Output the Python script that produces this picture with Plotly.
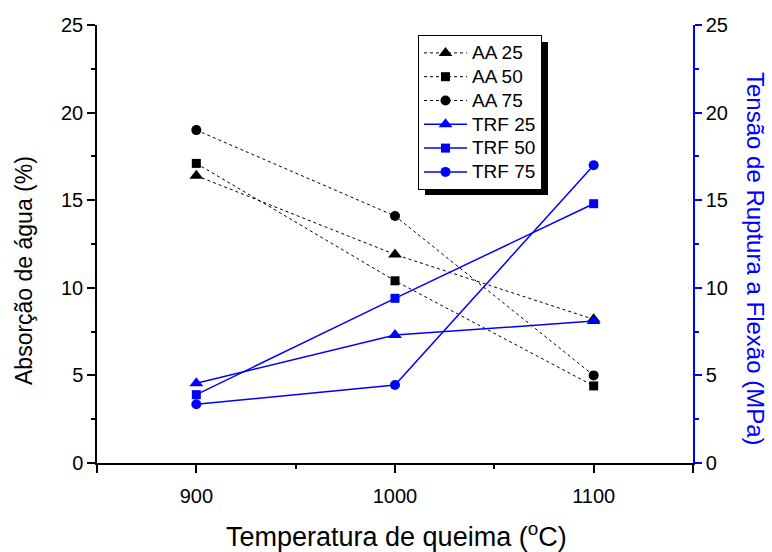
import plotly.graph_objects as go

temps = [900, 1000, 1100]
aa25 = [16.4, 11.9, 8.2]
aa50 = [17.1, 10.4, 4.4]
aa75 = [19.0, 14.1, 5.0]
trf25 = [4.55, 7.3, 8.1]
trf50 = [3.9, 9.4, 14.8]
trf75 = [3.35, 4.45, 17.0]

aa_names = ["AA 25", "AA 50", "AA 75"]
trf_names = ["TRF 25", "TRF 50", "TRF 75"]
symbols = ["triangle-up", "square", "circle"]
sizes = [12, 9, 10]

FONT = "Liberation Sans, Arial, sans-serif"
BLUE = "#0000ff"


def legend_label(name):
    # larger glyphs while keeping the compact legend row spacing
    return '<span style="font-size:19px">' + name + '</span>'


fig = go.Figure()
for name, vals, sym, sz in zip(aa_names, [aa25, aa50, aa75], symbols, sizes):
    fig.add_trace(go.Scatter(
        x=temps, y=vals, name=legend_label(name), mode="lines+markers",
        line=dict(color="black", width=1, dash="3px,3px"),
        marker=dict(symbol=sym, size=sz, color="black"),
        yaxis="y"))
for name, vals, sym, sz in zip(trf_names, [trf25, trf50, trf75], symbols, sizes):
    fig.add_trace(go.Scatter(
        x=temps, y=vals, name=legend_label(name), mode="lines+markers",
        line=dict(color=BLUE, width=1.5),
        marker=dict(symbol=sym, size=sz, color=BLUE),
        yaxis="y2"))

# plot area pixels
L, R, T, B = 97, 693, 25, 463
W, H = 772, 552
pw, ph = R - L, B - T

def px_x(x):
    return (x - L) / pw

def px_y(y):
    return (B - y) / ph

leg_l, leg_t, leg_r, leg_b = 418, 35, 541, 188
sh = 7

fig.update_layout(
    width=W, height=H,
    margin=dict(l=L, r=W - R, t=T, b=H - B, autoexpand=False),
    paper_bgcolor="white", plot_bgcolor="white",
    font=dict(family=FONT, size=20, color="black"),
    showlegend=True,
    legend=dict(
        x=px_x(leg_l), y=px_y(leg_t), xanchor="left", yanchor="top",
        bgcolor="white", bordercolor="black", borderwidth=1,
        font=dict(family=FONT, size=16, color="black"),
        tracegroupgap=0, itemwidth=43,
    ),
    xaxis=dict(
        range=[850, 1150], showgrid=False, zeroline=False,
        showline=True, linecolor="black", linewidth=1.5,
        ticks="outside", ticklen=8, tickwidth=1.5, tickcolor="black",
        tickvals=[850, 900, 1000, 1100, 1150],
        ticktext=["", "900", "1000", "1100", ""],
        minor=dict(tickvals=[950, 1050], ticks="outside", ticklen=4, tickwidth=1.5, tickcolor="black"),
        tickfont=dict(size=20), ticklabelstandoff=6,
    ),
    xaxis2=dict(
        range=[850, 1150], overlaying="x", side="top", anchor="y",
        showgrid=False, zeroline=False, showline=True, linecolor="black", linewidth=1.5,
        ticks="inside", ticklen=8, tickwidth=1.5, tickcolor="black",
        tickvals=[850, 900, 1000, 1100, 1150], showticklabels=False,
        minor=dict(tickvals=[950, 1050], ticks="inside", ticklen=4, tickwidth=1.5, tickcolor="black"),
    ),
    yaxis=dict(
        range=[0, 25], showgrid=False, zeroline=False,
        showline=True, linecolor="black", linewidth=1.5,
        ticks="outside", ticklen=8, tickwidth=1.5, tickcolor="black",
        tickvals=[0, 5, 10, 15, 20, 25],
        minor=dict(tickvals=[2.5, 7.5, 12.5, 17.5, 22.5], ticks="outside", ticklen=4, tickwidth=1.5, tickcolor="black"),
        tickfont=dict(size=20),
    ),
    yaxis2=dict(
        range=[0, 25], overlaying="y", side="right", anchor="x",
        showgrid=False, zeroline=False,
        showline=True, linecolor=BLUE, linewidth=1.5,
        ticks="outside", ticklen=7, tickwidth=1.5, tickcolor=BLUE,
        tickvals=[0, 5, 10, 15, 20, 25],
        minor=dict(tickvals=[2.5, 7.5, 12.5, 17.5, 22.5], ticks="outside", ticklen=4, tickwidth=1.5, tickcolor=BLUE),
        tickfont=dict(size=20, color="black"),
    ),
    shapes=[dict(
        type="rect", xref="paper", yref="paper",
        x0=px_x(leg_l + sh), x1=px_x(leg_r + sh),
        y0=px_y(leg_b + sh), y1=px_y(leg_t + sh),
        fillcolor="black", line=dict(width=0), layer="above",
    )],
    annotations=[
        dict(text="Absorção de água (%)", textangle=-90,
             xref="paper", yref="paper", x=px_x(24), y=px_y(271),
             xanchor="center", yanchor="middle", showarrow=False,
             font=dict(family=FONT, size=23, color="black")),
        dict(text="Temperatura de queima (<sup>o</sup>C)",
             xref="paper", yref="paper", x=px_x(396), y=px_y(535),
             xanchor="center", yanchor="middle", showarrow=False,
             font=dict(family=FONT, size=27, color="black")),
        dict(text="Tensão de Ruptura a Flexão (MPa)", textangle=90,
             xref="paper", yref="paper", x=px_x(756), y=px_y(259),
             xanchor="center", yanchor="middle", showarrow=False,
             font=dict(family=FONT, size=24, color=BLUE)),
    ],
)

fig.write_html("out.html", config={"displayModeBar": False},
               post_script="document.body.style.margin='0';document.body.style.padding='0';")
